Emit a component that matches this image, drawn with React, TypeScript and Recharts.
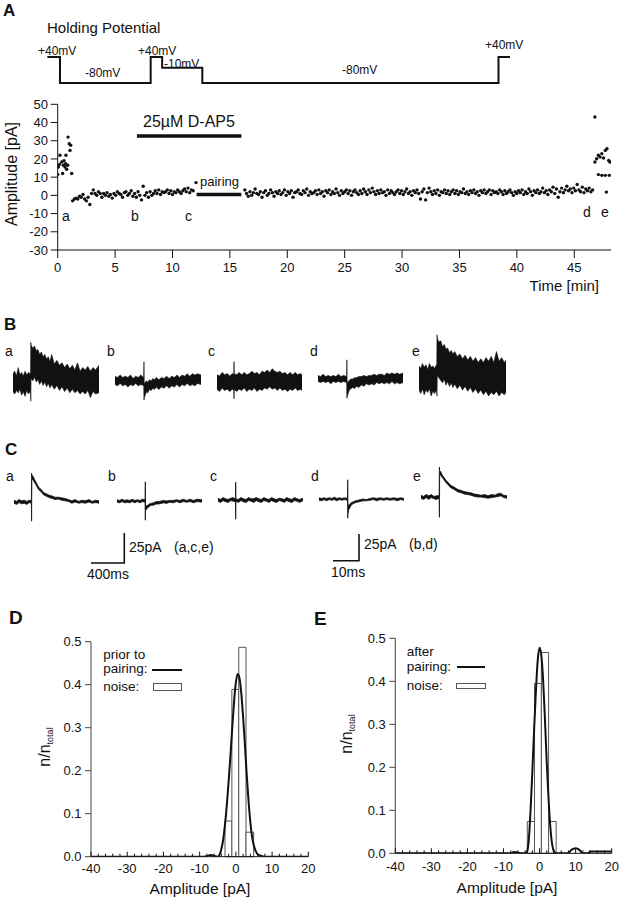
import React from 'react';
import {
  Area,
  ComposedChart,
  Line,
  LineChart,
  ReferenceArea,
  ReferenceLine,
  Scatter,
  ScatterChart,
  XAxis,
  YAxis,
} from 'recharts';

const FONT = '"Liberation Sans", Arial, Helvetica, sans-serif';
const INK = '#111';

// --- A: holding potential protocol (schematic, min / mV) ---
const HOLD_T = [-0.9, 0.2, 8.1, 9.1, 12.6, 38.4, 39.4];
const HOLD_MV = [40, -80, 40, -10, -80, 40, 40];

// --- A: EPSC amplitudes (min, pA) ---
const TIME_TICKS = [0, 5, 10, 15, 20, 25, 30, 35, 40, 45];
const AMP_TICKS = [-30, -20, -10, 0, 10, 20, 30, 40, 50];
const SWEEP_MIN = 0.15;

const CLUSTER_A: [number, number][] = [
  [0.0, 11.5], [0.06, 15.6], [0.15, 17], [0.2, 22], [0.35, 18.3], [0.43, 12],
  [0.49, 16.5], [0.55, 19], [0.64, 15.6], [0.69, 17.4], [0.72, 22], [0.78, 14.3],
  [0.87, 16.5], [0.9, 32], [1.0, 28.4], [1.07, 24.7], [1.13, 27.5], [1.22, 12],
];
const BASE1_START = 1.3;
const BASE1 = [
  -3, -2, -1.5, -2, -0.5,
  -1, 0.5, -2, -3, -1, -5, 1,
  3, 1, 0, 2, 1, -1,
  1, 0, 1.5, -0.5, 0.5, -1.5,
  1, 0, 2, 1, 0.5, -1,
  1.5, 2, 0, 1, 2.5, -0.5,
  1, -1, 2, 0, -2.5, 5,
  0, 1.5, -1, 2, 0, 1,
  2.5, 1, 3, 0.5, 2, 1.5,
  2, 3, 1, 2.5, 0.5, 2,
  1.5, 3, 2, 1, 2.5, 3.5,
  2, 4, 1.5, 3, 2.5,
];
const PAIRING_DOT: [number, number][] = [[12.05, 7]];
const BASE2_START = 16.3;
const BASE2 = [
  3, 1, -0.5, 2, 0, 1.5, 3.5, 1, 0.5, 2,
  -1, 1.5, 2.5, 0, 1, 3, 1.5, -0.5, 2, 1,
  2.5, 0.5, 1.5, 3, 0, 2, 1, 2.5, -1, 1.5,
  2, 3, 1, 0.5, 2.5, 1.5, 3.5, 0, 2, 1,
  1.5, 2.5, 0.5, 3, 1, 2, -0.5, 2.5, 1.5, 3,
  0.5, 2, 1, 3.5, 1.5, 0, 2.5, 1, 2, 3,
  1, 2.5, 0, 2, 3, 1.5, 0.5, 2.5, 1, 3.5,
  2, 0.5, 3, 1.5, 4, 2, 0.5, 2.5, 1, 3,
  1.5, 2, 0, 3, 1, 2.5, 1.5, 0.5, 2, 3,
  1, 2.5, 0.5, 2, 3.5, 1, 2, 0, 2.5, 1.5,
  3, 1, -2, 2, 3.5, -2.5, 1.5, 4, 2, 0.5,
  2.5, 1, 3, 0, 2, 1.5, 3, 1, 2.5, 0.5,
  2, 3, 1, 2.5, 0.5, 2, 1.5, 3.5, 1, 2,
  0.5, 2.5, 1.5, 3, 1, 2, 0, 2.5, 1.5, 3,
  1, 2, 3, 0.5, 2.5, 1.5, 2, 1, 3, 2,
  0.5, 2.5, 1, 2, 3, 1.5, 0, 2, 1, 2.5,
  1.5, 3, 0.5, 2, 1, 3.5, 2, 0, 2.5, 1.5,
  3, 1, 2, 4, 1.5, 2.5, 0.5, 3, 2, 4.5,
  1, 3.5, -1, 2, 4, 1.5, 3, 5, 2.5, 3.5,
  1.5, 4, 2.5, 6, 3, 2, 4.5, 1.5, 3.5, 2.5,
  4, 2, 3,
];
const CLUSTER_E: [number, number][] = [
  [46.8, 43], [46.8, 18.3], [46.95, 20.1], [47.1, 22], [47.25, 21], [47.4, 22.9],
  [47.55, 20.5], [47.7, 24.7], [47.85, 25.6], [48.0, 19.2], [48.1, 18.3],
  [47.1, 11.4], [47.4, 11], [47.7, 11], [48.05, 11], [47.8, 1.8],
];
const DAP5_MIN = [6.9, 16.0];
const PAIRING_MIN = [12.1, 16.0];

// --- B: raw sweeps, [t %, low pA, high pA] noise envelope ---
const B_A: [number, number, number][] = [
  [0, -8, 7], [2, -10, 9], [4, -7, 5], [6, -9, 12], [8, -6, 6], [10, -11, 8], [12, -8, 5],
  [14, -12, 9], [16, -7, 6], [18, -10, 8], [20, -8, 7], [20.4, -9, 7], [20.7, -16, 33],
  [21, 3, 31], [23, 1, 28], [25, 4, 30], [27, 0, 26], [29, 2, 27], [31, -2, 23], [33, 1, 25],
  [35, -3, 21], [37, 0, 23], [39, -4, 19], [41, -1, 21], [43, -5, 17], [45, -2, 23],
  [48, -6, 15], [51, -3, 18], [54, -7, 14], [57, -4, 16], [60, -8, 12], [63, -5, 15],
  [66, -9, 11], [69, -6, 14], [72, -9, 10], [75, -7, 16], [78, -10, 9], [81, -8, 12],
  [84, -10, 10], [87, -7, 13], [90, -13, 9], [93, -8, 12], [96, -10, 10], [100, -9, 14],
];
const B_B: [number, number, number][] = [
  [0, -3, 4], [3, -4, 3], [6, -2, 5], [9, -4, 3], [12, -3, 4], [15, -5, 3], [18, -3, 5],
  [21, -4, 2], [24, -2, 4], [27, -4, 3], [30, -3, 5], [33.4, -4, 3], [33.7, -16, 16],
  [34, -14, -3], [35, -12, -1], [36.5, -9, 0], [38, -10, -1], [40, -7, 1], [42, -8, 0],
  [44, -6, 2], [46, -7, 1], [48, -5, 3], [51, -7, 1], [54, -5, 3], [57, -6, 2], [60, -4, 4],
  [63, -6, 2], [66, -4, 4], [69, -5, 3], [72, -3, 5], [75, -5, 3], [78, -3, 5], [81, -4, 4],
  [84, -2, 6], [87, -4, 4], [90, -3, 6], [93, -4, 5], [96, -2, 6], [100, -3, 5],
];
const B_C: [number, number, number][] = [
  [0, -6, 6], [3, -8, 5], [6, -5, 8], [9, -7, 6], [12, -6, 7], [15, -8, 5], [18, -6, 7],
  [19.7, -7, 6], [20, -14, 17], [20.3, -6, 7], [23, -8, 6], [26, -6, 8], [29, -7, 6],
  [32, -5, 8], [35, -8, 6], [38, -6, 7], [41, -7, 9], [44, -5, 7], [47, -8, 8], [50, -6, 6],
  [53, -7, 9], [56, -5, 8], [59, -6, 10], [62, -4, 8], [65, -6, 11], [68, -5, 9], [71, -7, 8],
  [74, -5, 9], [77, -7, 7], [80, -6, 8], [83, -8, 6], [86, -6, 8], [89, -7, 6], [92, -5, 8],
  [95, -7, 6], [98, -6, 7], [100, -7, 6],
];
const B_D: [number, number, number][] = [
  [0, -2, 3], [3, -3, 2], [6, -2, 4], [9, -3, 2], [12, -2, 3], [15, -4, 2], [18, -2, 3],
  [21, -3, 2], [24, -2, 4], [27, -3, 2], [30, -2, 3], [33.7, -3, 2], [34, -16, 16],
  [34.3, -15, -4], [35.5, -12, -2], [37, -9, -1], [39, -8, 0], [41, -7, 0], [43, -8, 1],
  [45, -6, 1], [48, -7, 2], [51, -5, 2], [54, -6, 3], [57, -4, 2], [60, -5, 3], [63, -4, 3],
  [66, -5, 4], [69, -3, 3], [72, -4, 4], [75, -3, 4], [78, -4, 3], [81, -3, 5], [84, -4, 4],
  [87, -2, 5], [90, -4, 4], [93, -3, 5], [96, -4, 4], [100, -3, 5],
];
const B_E: [number, number, number][] = [
  [0, -10, 10], [2, -13, 8], [4, -9, 12], [6, -14, 9], [8, -10, 11], [10, -12, 7],
  [12, -9, 12], [14, -15, 9], [16, -11, 10], [18, -13, 8], [20, -10, 11], [20.4, -12, 9],
  [20.7, -15, 36], [21, 2, 33], [23, 0, 30], [25, -2, 31], [27, -4, 26], [29, -1, 28],
  [31, -6, 24], [33, -3, 25], [35, -7, 21], [37, -4, 23], [39, -8, 20], [41, -5, 22],
  [44, -9, 18], [47, -6, 20], [50, -10, 16], [53, -7, 19], [56, -11, 15], [59, -8, 18],
  [62, -12, 14], [65, -9, 17], [68, -13, 13], [71, -10, 16], [74, -14, 13], [77, -11, 17],
  [80, -15, 14], [83, -12, 18], [86, -14, 13], [89, -11, 22], [92, -15, 14], [95, -12, 17],
  [98, -14, 13], [100, -12, 15],
];

// --- C: averaged sweeps ---
const C_A: [number, number, number][] = [
  [0, -1, 1.5], [3, -2, 0.5], [6, -0.5, 2], [9, -1.5, 1], [12, -1, 1.5], [15, -2, 0.5],
  [18, -0.5, 1.5], [20.4, -1, 1], [20.7, -16, 24], [21, 18, 21], [22, 19, 22], [24, 16.5, 19],
  [26, 14, 16.5], [28, 11.5, 13.5], [30, 9.5, 11.5], [32, 8.5, 10.5], [34, 6.5, 8.5],
  [36, 5.5, 7.5], [39, 4.5, 6.5], [42, 3.5, 5.5], [45, 3, 5], [48, 2, 4], [52, 2.5, 4],
  [56, 1.5, 3.5], [60, 1, 3], [64, 0.5, 2], [68, -1, 1], [72, 0, 2], [76, -1, 0.5],
  [80, -0.5, 1.5], [84, -1, 1], [88, 0, 2], [92, -1, 0.5], [96, -0.5, 1.5], [100, -1, 1],
];
const C_B: [number, number, number][] = [
  [0, -1, 1], [3, -1.5, 0.5], [6, -0.5, 1.5], [9, -1.5, 0.5], [12, -1, 1], [15, -1.5, 0.5],
  [18, -0.5, 1.5], [21, -1.5, 0.5], [24, -0.5, 1], [27, -1.5, 0.5], [30, -0.5, 1.5], [33, -1, 1],
  [33.3, -16, 16], [33.6, -8, -4], [35, -6.5, -4], [36.5, -5.5, -3.5], [38, -4.5, -2.5],
  [40, -3.5, -2], [43, -3.5, -1.5], [46, -2.5, -0.5], [49, -2.5, -0.5], [52, -2, 0],
  [55, -1.5, 0.5], [58, -2, 0], [62, -1, 0.5], [66, -1.5, 0.5], [70, -0.5, 1], [74, -1.5, 0.5],
  [78, -0.5, 1.5], [82, -1, 0.5], [86, -0.5, 1.5], [90, -1.5, 0.5], [94, -0.5, 1.5], [100, -1, 1],
];
const C_C: [number, number, number][] = [
  [0, -1, 1.5], [3, -2, 0.5], [6, -0.5, 2], [9, -1.5, 1], [12, -2, 0.5], [15, -0.5, 1.5],
  [18, -1, 2], [20.5, -1.5, 0.5], [20.8, -16, 15], [21.1, -1, 1], [24, -2, 0.5], [27, -0.5, 2],
  [30, -1.5, 1], [33, -2, 0.5], [36, -0.5, 2], [39, -1, 1], [42, -2, 1], [45, -0.5, 2],
  [48, -1.5, 1], [51, -2, 0.5], [54, -0.5, 2], [57, -1, 1], [60, -2, 0.5], [63, -0.5, 2],
  [66, -1.5, 1], [69, -2, 0.5], [72, -0.5, 1.5], [75, -1, 1], [78, -2, 0.5], [81, -0.5, 2],
  [84, -1.5, 1], [87, -2, 0.5], [90, -0.5, 2], [93, -1, 1], [96, -2, 0.5], [100, -0.5, 1.5],
];
const C_D: [number, number, number][] = [
  [0, -1, 1], [3, -1.5, 0.5], [6, -0.5, 1], [9, -1.5, 0.5], [12, -0.5, 1], [15, -1, 0.5],
  [18, -0.5, 1.5], [21, -1.5, 0.5], [24, -0.5, 1], [27, -1, 0.5], [30, -0.5, 1], [33.5, -1, 0.5],
  [33.8, -16, 16], [34.1, -12, -6], [35, -9, -5], [36.5, -7, -4], [38, -5, -3], [40, -4, -2.5],
  [43, -3, -1.5], [46, -2.5, -1], [49, -2, -0.5], [52, -1.5, 0], [56, -1.5, -0.5], [60, -1, 0.5],
  [64, -0.5, 1], [68, -1.5, 0.5], [72, -0.5, 1], [76, -1, 0.5], [80, -0.5, 1], [84, -1, 0.5],
  [88, -0.5, 1], [92, -1.5, 0.5], [96, -0.5, 1], [100, -1, 0.5],
];
const C_E: [number, number, number][] = [
  [0, -1, 1.5], [3, -2, 0.5], [6, -0.5, 2], [9, -2, 1], [12, -0.5, 2], [15, -1.5, 0.5],
  [18, -2, 1], [21.1, -1, 1], [21.4, -17, 25], [21.7, 19, 22], [23, 18, 21], [25, 16, 18],
  [27, 14, 16], [29, 12, 14], [31, 10.5, 12.5], [33, 9, 11], [35, 7.5, 9.5], [38, 6.5, 8.5],
  [41, 5, 7], [44, 4, 6], [47, 3.5, 5.5], [50, 2.5, 4.5], [54, 2, 4], [58, 1.5, 3.5],
  [62, 0.5, 2.5], [66, 0, 2], [70, 0, 1.5], [74, -0.5, 2], [78, -1, 1], [82, -0.5, 2],
  [86, 0, 1.5], [90, 0.5, 3], [93, 1, 3], [96, -0.5, 1.5], [100, -1, 1],
];
const SCALE_ACE = { ms: 400, pA: 25 };
const SCALE_BD = { ms: 10, pA: 25 };

// --- D / E: amplitude histograms ---
const HIST_X_TICKS = [
  -40, -38, -36, -34, -32, -30, -28, -26, -24, -22, -20, -18, -16, -14, -12, -10,
  -8, -6, -4, -2, 0, 2, 4, 6, 8, 10, 12, 14, 16, 18, 20,
];
const HIST_Y_TICKS = [0, 0.1, 0.2, 0.3, 0.4, 0.5];
const D_EDGES = [-3, -1.1, 0.8, 2.8, 4.9];
const D_NOISE = [0.083, 0.389, 0.487, 0.057];
const D_FIT: [number, number][] = [
  [-40, 0], [-9, 0], [-8, 0.001], [-7, 0.004], [-6, 0.002], [-5, 0], [-4.5, 0.005],
  [-4, 0.018], [-3.5, 0.04], [-3, 0.075], [-2.5, 0.12], [-2, 0.175], [-1.5, 0.235],
  [-1, 0.3], [-0.5, 0.36], [0, 0.405], [0.5, 0.425], [1, 0.415], [1.5, 0.38], [2, 0.325],
  [2.5, 0.26], [3, 0.19], [3.5, 0.13], [4, 0.08], [4.5, 0.045], [5, 0.025], [5.5, 0.013],
  [6, 0.006], [7, 0.002], [8, 0], [20, 0],
];
const E_EDGES = [-3.4, -1.4, 0.5, 2.5, 4.6];
const E_NOISE = [0.074, 0.395, 0.467, 0.074];
const E_FIT: [number, number][] = [
  [-40, 0], [-8, 0], [-7.5, 0.002], [-7, 0.003], [-6, 0.002], [-5, 0], [-4, 0],
  [-3.5, 0.003], [-3, 0.03], [-2.5, 0.1], [-2, 0.19], [-1.5, 0.29], [-1, 0.38],
  [-0.5, 0.45], [0, 0.478], [0.5, 0.46], [1, 0.4], [1.5, 0.31], [2, 0.21], [2.5, 0.125],
  [3, 0.06], [3.5, 0.02], [4, 0.004], [4.5, 0], [8, 0], [8.5, 0.005], [9, 0.009],
  [9.5, 0.011], [10, 0.012], [10.5, 0.011], [11, 0.008], [11.5, 0.004], [12, 0],
  [13.5, 0], [14, 0.004], [20, 0.004],
];

const sweepPoints = (start: number, vals: number[]) =>
  vals.map((v, i) => ({ t: start + i * SWEEP_MIN, v }));
const pairPoints = (pts: [number, number][]) => pts.map(([t, v]) => ({ t, v }));

function Txt({
  x, y, size = 13, bold = false, anchor = 'start', children,
}: {
  x: number; y: number; size?: number; bold?: boolean; anchor?: string; children: React.ReactNode;
}) {
  const tx = anchor === 'middle' ? '-50%' : anchor === 'end' ? '-100%' : '0';
  return (
    <div
      style={{
        position: 'absolute', left: x, top: y, transform: `translate(${tx}, -50%)`,
        fontSize: size, fontWeight: bold ? 700 : 400, lineHeight: 1, whiteSpace: 'nowrap',
      }}
    >
      {children}
    </div>
  );
}

function VTxt({ x, y, size, children }: { x: number; y: number; size: number; children: React.ReactNode }) {
  return (
    <div
      style={{
        position: 'absolute', left: x, top: y, transform: 'translate(-50%, -50%) rotate(-90deg)',
        fontSize: size, lineHeight: 1, whiteSpace: 'nowrap',
      }}
    >
      {children}
    </div>
  );
}

function Trace({
  data, left, base, width, stroke = 0.6,
}: { data: [number, number, number][]; left: number; base: number; width: number; stroke?: number }) {
  const rows = data.map(([t, lo, hi]) => ({ t, r: [lo, hi] }));
  return (
    <div style={{ position: 'absolute', left, top: base - 51 }}>
      <ComposedChart width={width} height={78} data={rows} margin={{ top: 0, right: 0, bottom: 0, left: 0 }}>
        <XAxis dataKey="t" type="number" domain={[0, 100]} hide allowDataOverflow />
        <YAxis type="number" domain={[-22.5, 42.5]} hide allowDataOverflow />
        <Area
          dataKey="r" type="linear" stroke={INK} strokeWidth={stroke} fill={INK} fillOpacity={1}
          dot={false} activeDot={false} isAnimationActive={false}
        />
      </ComposedChart>
    </div>
  );
}

function ScaleBar({ left, top, w, h, scale }: { left: number; top: number; w: number; h: number; scale: { ms: number; pA: number } }) {
  const rows = [
    { x: 0, y: 0 },
    { x: scale.ms, y: 0 },
    { x: scale.ms, y: scale.pA },
  ];
  return (
    <div style={{ position: 'absolute', left: left - 4, top: top - 4 }}>
      <LineChart width={w + 8} height={h + 8} data={rows} margin={{ top: 4, right: 4, bottom: 4, left: 4 }}>
        <XAxis dataKey="x" type="number" domain={[0, scale.ms]} hide />
        <YAxis type="number" domain={[0, scale.pA]} hide />
        <Line dataKey="y" type="linear" stroke={INK} strokeWidth={1.6} dot={false} isAnimationActive={false} />
      </LineChart>
    </div>
  );
}

const makeAmpTick = (labelDy: number) => (props: any) => {
  const { x, y, payload } = props;
  const major = payload.value % 10 === 0;
  return (
    <g>
      <line x1={x} x2={x} y1={y} y2={y - (major ? 5 : 3)} stroke={INK} strokeWidth={1} />
      {major && (
        <text x={x} y={y + labelDy} textAnchor="middle" fontSize={13} fontFamily={FONT} fill={INK}>
          {payload.value}
        </text>
      )}
    </g>
  );
};

function Histogram({
  left, top, width, margin, fit, edges, noise, labelDy,
}: {
  left: number; top: number; width: number;
  margin: { top: number; right: number; bottom: number; left: number };
  fit: [number, number][]; edges: number[]; noise: number[]; labelDy: number;
}) {
  const rows = fit.map(([x, y]) => ({ x, y }));
  return (
    <div style={{ position: 'absolute', left, top }}>
      <ComposedChart width={width} height={300} data={rows} margin={margin}>
        <XAxis
          dataKey="x" type="number" domain={[-40, 20]} ticks={HIST_X_TICKS} interval={0}
          tickLine={false} tickSize={0} tickMargin={0} height={30}
          tick={makeAmpTick(labelDy)} axisLine={{ stroke: INK }} allowDataOverflow
        />
        <YAxis
          type="number" domain={[0, 0.5]} ticks={HIST_Y_TICKS} interval={0} width={50}
          tickSize={6} tickMargin={3.5} tickFormatter={(v: number) => v.toFixed(1)}
          tick={{ fill: INK, fontSize: 13, fontFamily: FONT }}
          axisLine={{ stroke: '#444' }} tickLine={{ stroke: '#444' }} allowDataOverflow
        />
        {noise.map((v, i) => (
          <ReferenceArea
            key={i} x1={edges[i]} x2={edges[i + 1]} y1={0} y2={v}
            fill="#fff" fillOpacity={1} stroke="#555" strokeWidth={1} ifOverflow="visible"
          />
        ))}
        <Line dataKey="y" type="monotone" stroke={INK} strokeWidth={2} dot={false} isAnimationActive={false} />
      </ComposedChart>
    </div>
  );
}

const dotShape = (p: any) => <circle cx={p.cx} cy={p.cy} r={1.7} fill={INK} />;

export default function App() {
  const holdRows = HOLD_T.map((t, i) => ({ t, mv: HOLD_MV[i] }));
  const axisTick = { fill: INK, fontSize: 13, fontFamily: FONT };

  return (
    <div
      style={{
        position: 'relative', width: 623, height: 900, background: '#fff',
        fontFamily: FONT, color: INK, overflow: 'hidden',
      }}
    >
      <style>{'body{margin:0}'}</style>

      {/* ---------- A ---------- */}
      <Txt x={3} y={10} size={17} bold>A</Txt>
      <Txt x={47} y={27} size={15}>Holding Potential</Txt>

      <div style={{ position: 'absolute', left: 0, top: 47 }}>
        <LineChart width={623} height={46} data={holdRows} margin={{ top: 10, right: 12, bottom: 10, left: 46.2 }}>
          <XAxis dataKey="t" type="number" domain={[-1, 48.2]} hide />
          <YAxis type="number" domain={[-80, 40]} hide />
          <Line dataKey="mv" type="stepAfter" stroke={INK} strokeWidth={2} dot={false} isAnimationActive={false} />
        </LineChart>
      </div>
      <Txt x={38} y={51} size={12}>+40mV</Txt>
      <Txt x={85} y={73} size={12}>-80mV</Txt>
      <Txt x={138} y={50.5} size={12}>+40mV</Txt>
      <Txt x={164} y={64} size={12}>-10mV</Txt>
      <Txt x={342} y={70} size={12}>-80mV</Txt>
      <Txt x={485} y={45} size={12}>+40mV</Txt>

      <div style={{ position: 'absolute', left: 0, top: 95 }}>
        <ScatterChart width={623} height={200} margin={{ top: 9.3, right: 12, bottom: 15, left: 0 }}>
          <XAxis
            dataKey="t" type="number" domain={[0, 48.2]} ticks={TIME_TICKS} interval={0}
            tickSize={8} tickMargin={5} height={30} tick={axisTick}
            axisLine={{ stroke: INK }} tickLine={{ stroke: INK }} allowDataOverflow
          />
          <YAxis
            dataKey="v" type="number" domain={[-30, 50]} ticks={AMP_TICKS} interval={0}
            width={57.7} tickSize={7} tickMargin={2.7} tick={axisTick}
            axisLine={{ stroke: INK }} tickLine={{ stroke: INK }} allowDataOverflow
          />
          <ReferenceLine
            segment={[{ x: DAP5_MIN[0], y: 32.6 }, { x: DAP5_MIN[1], y: 32.6 }]}
            stroke={INK} strokeWidth={3.5}
          />
          <ReferenceLine
            segment={[{ x: PAIRING_MIN[0], y: 0.5 }, { x: PAIRING_MIN[1], y: 0.5 }]}
            stroke={INK} strokeWidth={3.5}
          />
          <Scatter data={pairPoints(CLUSTER_A)} shape={dotShape} isAnimationActive={false} />
          <Scatter data={sweepPoints(BASE1_START, BASE1)} shape={dotShape} isAnimationActive={false} />
          <Scatter data={pairPoints(PAIRING_DOT)} shape={dotShape} isAnimationActive={false} />
          <Scatter data={sweepPoints(BASE2_START, BASE2)} shape={dotShape} isAnimationActive={false} />
          <Scatter data={pairPoints(CLUSTER_E)} shape={dotShape} isAnimationActive={false} />
        </ScatterChart>
      </div>
      <VTxt x={12} y={174} size={16}>Amplitude [pA]</VTxt>
      <Txt x={143} y={122} size={16}>25µM D-AP5</Txt>
      <Txt x={200} y={181} size={13}>pairing</Txt>
      <Txt x={62} y={216} size={14}>a</Txt>
      <Txt x={131} y={216} size={14}>b</Txt>
      <Txt x={185} y={216} size={14}>c</Txt>
      <Txt x={583} y={212} size={14}>d</Txt>
      <Txt x={601} y={212} size={14}>e</Txt>
      <Txt x={599} y={285} size={15} anchor="end">Time [min]</Txt>

      {/* ---------- B ---------- */}
      <Txt x={4} y={324} size={17} bold>B</Txt>
      <Txt x={5} y={351} size={14}>a</Txt>
      <Txt x={107} y={351} size={14}>b</Txt>
      <Txt x={208} y={351} size={14}>c</Txt>
      <Txt x={310} y={351} size={14}>d</Txt>
      <Txt x={412} y={351} size={14}>e</Txt>
      <Trace data={B_A} left={13} base={382} width={86} />
      <Trace data={B_B} left={115} base={381} width={86} />
      <Trace data={B_C} left={217} base={381.5} width={85} />
      <Trace data={B_D} left={318} base={378.5} width={85} />
      <Trace data={B_E} left={419} base={377.5} width={87} />

      {/* ---------- C ---------- */}
      <Txt x={5} y={448.7} size={17} bold>C</Txt>
      <Txt x={6} y={475.5} size={14}>a</Txt>
      <Txt x={108} y={475.5} size={14}>b</Txt>
      <Txt x={210} y={475.5} size={14}>c</Txt>
      <Txt x={311} y={475.5} size={14}>d</Txt>
      <Txt x={413} y={475.5} size={14}>e</Txt>
      <Trace data={C_A} left={14} base={502.3} width={85} stroke={0.8} />
      <Trace data={C_B} left={117} base={501} width={85} stroke={0.8} />
      <Trace data={C_C} left={218} base={500} width={85} stroke={0.8} />
      <Trace data={C_D} left={319} base={499} width={85} stroke={0.8} />
      <Trace data={C_E} left={421} base={496.7} width={86} stroke={0.8} />

      <ScaleBar left={90.7} top={533.3} w={33.3} h={30} scale={SCALE_ACE} />
      <Txt x={129} y={547} size={14}>25pA</Txt>
      <Txt x={174} y={547} size={14}>(a,c,e)</Txt>
      <Txt x={87} y={574} size={14}>400ms</Txt>
      <ScaleBar left={333} top={534} w={26} h={26.7} scale={SCALE_BD} />
      <Txt x={364} y={544} size={14}>25pA</Txt>
      <Txt x={409} y={544} size={14}>(b,d)</Txt>
      <Txt x={331} y={572} size={14}>10ms</Txt>

      {/* ---------- D ---------- */}
      <Txt x={9} y={616.7} size={19} bold>D</Txt>
      <Histogram
        left={0} top={600} width={330}
        margin={{ top: 41.7, right: 21.7, bottom: 13.3, left: 41 }}
        fit={D_FIT} edges={D_EDGES} noise={D_NOISE} labelDy={16}
      />
      <VTxt x={46} y={747} size={16}>
        n/n<span style={{ fontSize: 9, verticalAlign: -3 }}>total</span>
      </VTxt>
      <Txt x={200} y={889} size={15.5} anchor="middle">Amplitude [pA]</Txt>
      <Txt x={103.3} y={655} size={13.5}>prior to</Txt>
      <Txt x={103.3} y={669} size={13.5}>pairing:</Txt>
      <Txt x={103.3} y={687} size={13.5}>noise:</Txt>
      <div style={{ position: 'absolute', left: 151.7, top: 669, width: 30, borderTop: `2.5px solid ${INK}` }} />
      <div style={{ position: 'absolute', left: 152.7, top: 683.3, width: 27, height: 5.6, border: '1px solid #555' }} />

      {/* ---------- E ---------- */}
      <Txt x={314} y={617.5} size={19} bold>E</Txt>
      <Histogram
        left={310} top={600} width={313}
        margin={{ top: 38.3, right: 11.3, bottom: 16.7, left: 35.3 }}
        fit={E_FIT} edges={E_EDGES} noise={E_NOISE} labelDy={18}
      />
      <VTxt x={348} y={734} size={16}>
        n/n<span style={{ fontSize: 9, verticalAlign: -3 }}>total</span>
      </VTxt>
      <Txt x={507} y={888} size={15.5} anchor="middle">Amplitude [pA]</Txt>
      <Txt x={406.7} y={651.7} size={13.5}>after</Txt>
      <Txt x={406.7} y={666.7} size={13.5}>pairing:</Txt>
      <Txt x={406.7} y={686} size={13.5}>noise:</Txt>
      <div style={{ position: 'absolute', left: 456.7, top: 666, width: 28.3, borderTop: `2.5px solid ${INK}` }} />
      <div style={{ position: 'absolute', left: 456, top: 682.7, width: 27.7, height: 4.6, border: '1px solid #555' }} />
    </div>
  );
}
